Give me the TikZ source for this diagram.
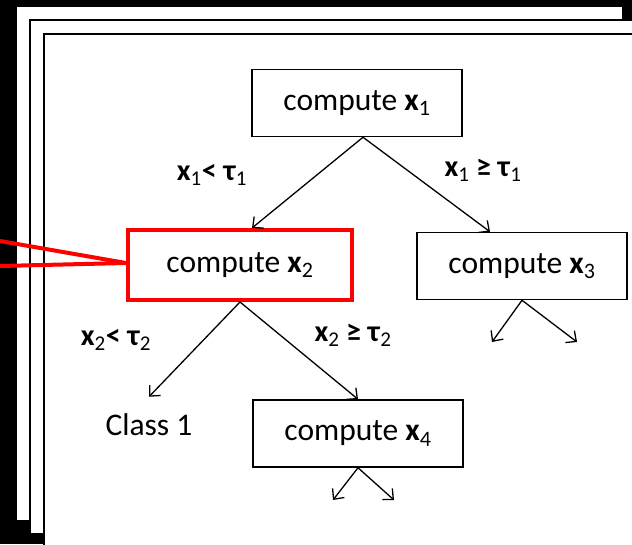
\documentclass[tikz,border=0pt]{standalone}
\usepackage{fontspec}
\setmainfont{Carlito}
\usetikzlibrary{arrows.meta,calc}

% bold feature symbol with a regular-weight subscript
\newcommand\fx[1]{\textbf{x}\textsubscript{#1}}
\newcommand\ft[1]{\textbf{τ}\textsubscript{#1}}

\begin{document}
\begin{tikzpicture}[x=1pt,y=-1pt,
  pagesheet/.style={fill=white,draw=black,line width=2pt},
  treebox/.style={draw=black,line width=1.5pt,fill=white,inner sep=0pt,
    minimum width=210pt,minimum height=67pt,font=\fontsize{31.5}{38}\selectfont},
  hotbox/.style={treebox,draw=red,line width=4pt,minimum width=224pt,minimum height=70pt},
  leaftext/.style={inner sep=0pt,font=\fontsize{31.5}{38}\selectfont},
  cond/.style={inner sep=0pt,font=\fontsize{30}{36}\selectfont},
  edge/.style={line width=1.3pt,-{Straight Barb[length=8pt,width=15pt,line width=1.3pt]}},
  zoomline/.style={red,line width=4pt}]

\useasboundingbox (0,0) rectangle (632,544);
\begin{scope}
  \clip (0,0) rectangle (632,544);
  % stacked sheets on a black ground
  \fill[black] (0,0) rectangle (632,544);
  \fill[white] (17,7) rectangle (622,520);
  \draw[pagesheet] (30,20) rectangle (680,534);
  \draw[pagesheet] (44,34) rectangle (680,600);
\end{scope}

% tree nodes
\node[treebox] (root) at (357,103) {compute \fx{1}};
\node[hotbox]  (n2)   at (240,265) {compute \fx{2}};
\node[treebox] (n3)   at (522,266) {compute \fx{3}};
\node[treebox] (n4)   at (358,433.5) {compute \fx{4}};
\node[leaftext] (c1)  at (149,425) {Class 1};

% split conditions
\node[cond] (l1) at (212,175) {\fx{1}\textbf{<} \ft{1}};
\node[cond] (r1) at (483,170) {\fx{1} \textbf{≥} \ft{1}};
\node[cond] (l2) at (116,340) {\fx{2}\textbf{<} \ft{2}};
\node[cond] (r2) at (353,335) {\fx{2} \textbf{≥} \ft{2}};

% branches
\draw[edge] ([xshift=6pt]root.south) -- ([xshift=12pt]n2.north);
\draw[edge] ([xshift=6pt]root.south) -- ([xshift=-32pt]n3.north);
\draw[edge] (n2.south) -- ([yshift=17pt]c1.north);
\draw[edge] (n2.south) -- (n4.north);

% open branches below the deeper nodes
\coordinate (n3a) at (492,342);
\coordinate (n3b) at (577,342);
\coordinate (n4a) at (333,500);
\coordinate (n4b) at (394,500);
\draw[edge] (n3.south) -- (n3a);
\draw[edge] (n3.south) -- (n3b);
\draw[edge] (n4.south) -- (n4a);
\draw[edge] (n4.south) -- (n4b);

% magnification lines leading off to the left
\coordinate (zA) at (0,241);
\coordinate (zB) at (0,266);
\draw[zoomline] (zA) -- ([yshift=2pt]n2.west);
\draw[zoomline] (zB) -- ([yshift=2pt]n2.west);
\end{tikzpicture}
\end{document}
